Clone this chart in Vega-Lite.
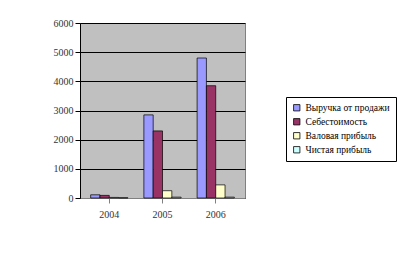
{
  "$schema": "https://vega.github.io/schema/vega-lite/v6.json",
  "autosize": {"type": "none"},
  "width": 165,
  "height": 175,
  "padding": {"left": 80, "top": 23, "right": 158, "bottom": 63},
  "background": "white",
  "config": {
    "view": {"fill": "#C0C0C0", "stroke": "#808080"},
    "font": "Liberation Serif",
    "axis": {"labelFont": "Liberation Serif"},
    "legend": {"labelFont": "Liberation Serif"}
  },
  "data": {"values": [
    {"year": "2004", "series": "Выручка от продажи", "value": 110},
    {"year": "2004", "series": "Себестоимость", "value": 90},
    {"year": "2004", "series": "Валовая прибыль", "value": 20},
    {"year": "2004", "series": "Чистая прибыль", "value": 10},
    {"year": "2005", "series": "Выручка от продажи", "value": 2850},
    {"year": "2005", "series": "Себестоимость", "value": 2300},
    {"year": "2005", "series": "Валовая прибыль", "value": 250},
    {"year": "2005", "series": "Чистая прибыль", "value": 30},
    {"year": "2006", "series": "Выручка от продажи", "value": 4800},
    {"year": "2006", "series": "Себестоимость", "value": 3850},
    {"year": "2006", "series": "Валовая прибыль", "value": 450},
    {"year": "2006", "series": "Чистая прибыль", "value": 30}
  ]},
  "mark": {"type": "bar", "stroke": "black", "strokeWidth": 0.7},
  "encoding": {
    "x": {
      "field": "year", "type": "nominal", "title": null,
      "scale": {"paddingInner": 0.3, "paddingOuter": 0.2},
      "axis": {"labelAngle": 0, "labelFont": "Liberation Serif", "labelFontSize": 10, "labelColor": "#333", "domainColor": "#808080", "tickColor": "#808080", "labelPadding": 6}
    },
    "xOffset": {"field": "series", "type": "nominal", "sort": ["Выручка от продажи", "Себестоимость", "Валовая прибыль", "Чистая прибыль"]},
    "y": {
      "field": "value", "type": "quantitative", "title": null,
      "scale": {"domain": [0, 6000]},
      "axis": {"values": [0, 1000, 2000, 3000, 4000, 5000, 6000], "format": "d", "labelFont": "Liberation Serif", "labelFontSize": 10, "labelColor": "#333", "gridColor": "black", "gridWidth": 1, "domainColor": "black", "tickColor": "black", "tickSize": 5}
    },
    "color": {
      "field": "series", "type": "nominal", "sort": ["Выручка от продажи", "Себестоимость", "Валовая прибыль", "Чистая прибыль"],
      "scale": {"domain": ["Выручка от продажи", "Себестоимость", "Валовая прибыль", "Чистая прибыль"], "range": ["#9999FF", "#993366", "#FFFFCC", "#CCFFFF"]},
      "legend": {
        "title": null, "orient": "none", "legendX": 206, "legendY": 74,
        "strokeColor": "black", "padding": 6, "fillColor": "white",
        "symbolType": "square", "symbolSize": 40, "symbolStrokeColor": "black", "symbolStrokeWidth": 0.8,
        "labelFont": "Liberation Serif", "labelFontSize": 9.5, "labelColor": "black", "rowPadding": 3
      }
    }
  }
}
